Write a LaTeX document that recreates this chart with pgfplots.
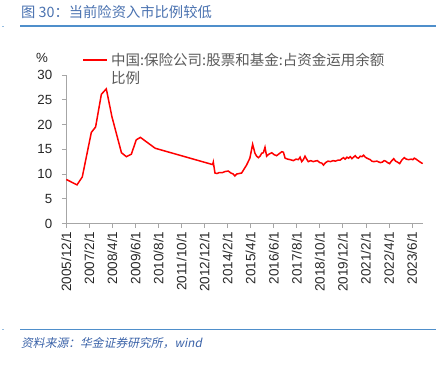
\documentclass[border=0pt]{standalone}
\usepackage{fontspec}
\setmainfont{Liberation Sans}
\newfontfamily\cjk{Noto Sans CJK SC}
\newfontfamily\cjkit{Noto Sans CJK SC}[FakeSlant=0.2]
\usepackage{pgfplots}
\pgfplotsset{compat=1.18}
\definecolor{titleblue}{HTML}{4A72B0}
\definecolor{lineblue}{HTML}{4F8FCB}
\definecolor{srcblue}{HTML}{3A62A8}
\definecolor{axisgray}{HTML}{A6A6A6}
\definecolor{legtext}{HTML}{595959}
\begin{document}
\begin{tikzpicture}[x=1pt,y=1pt]
\path[use as bounding box] (0,0) rectangle (448,365);
% title
\node[anchor=base west, inner sep=0pt, text=titleblue, font=\cjk\fontsize{14.3}{14.3}\selectfont] at (21,347) {图 30：当前险资入市比例较低};
\draw[lineblue, line width=1.1pt] (20,339) -- (436,339);
\draw[lineblue, line width=0.8pt] (20,36) -- (436,36);
\draw[lineblue!60, line width=0.6pt] (2,339) -- (4,339);
\draw[lineblue!60, line width=0.6pt] (2,36) -- (4,36);
\node[anchor=base west, inner sep=0pt, text=srcblue, font=\cjkit\fontsize{11.8}{11.8}\selectfont] at (21,18) {资料来源：华金证券研究所，wind};
\begin{axis}[
  at={(66.3pt,141.5pt)}, anchor=origin,
  scale only axis, width=356.4pt, height=148.5pt,
  xmin=0, xmax=216.5, ymin=0, ymax=30,
  axis x line*=bottom, axis y line*=left,
  axis line style={axisgray, line width=0.8pt},
  tick style={axisgray, line width=0.8pt},
  tick align=outside, major tick length=4.5pt,
  ytick={0,5,...,30},
  xtick={0,14,...,210},
  xticklabels={2005/12/1,2007/2/1,2008/4/1,2009/6/1,2010/8/1,2011/10/1,2012/12/1,2014/2/1,2015/4/1,2016/6/1,2017/8/1,2018/10/1,2019/12/1,2021/2/1,2022/4/1,2023/6/1},
  /pgf/number format/assume math mode=true,
  y tick label style={font=\fontsize{13.3}{13.3}\selectfont, text=black!85, xshift=-6pt},
  x tick label style={font=\fontsize{13.5}{13.5}\selectfont, text=black!85, rotate=90, anchor=east},
  clip=false,
]
\addplot[red, line width=1.5pt] coordinates {
(0,8.9) (6.5,7.8) (9.7,9.4) (15.2,18.4) (17.8,19.5) (21.3,26.1) (24.3,27.2)
(27.7,21.6) (33.5,14.3) (36.5,13.5) (39.5,14.0) (42.5,16.9) (45,17.4) (54,15.2)
(88.9,11.9) (89.3,12.4) (90.3,10.2) (91.5,10.1) (93,10.3) (95,10.3) (96.5,10.5)
(98.4,10.6) (100,10.2) (101.4,10.0) (102.4,9.6) (103.5,10.0) (105,10.1) (106.5,10.2)
(108,11.0) (109.5,11.8) (111.5,13.2) (113.2,16.0) (114.6,14.2) (115.6,13.6) (116.7,13.3)
(117.7,13.6) (118.7,14.2) (119.7,14.3) (120.7,15.4) (121.7,13.6) (123,14.0) (124.8,14.3)
(126.3,13.9) (127.8,13.7) (129.3,14.1) (130.9,14.5) (131.9,14.4) (132.9,13.2) (134.5,13.0)
(136,12.9) (138,12.7) (139.5,13.0) (141,12.9) (142,13.4) (143,12.5) (144,12.9) (145,13.6)
(146,13.0) (147,12.5) (148.5,12.7) (150,12.5) (151,12.6) (152.5,12.7) (154,12.3) (155.2,12.2)
(156.2,11.8) (157.5,12.3) (159,12.6) (160.5,12.5) (162,12.7) (163.5,12.6) (165,12.8) (166.4,12.8)
(167.4,13.1) (168.4,13.3) (169.4,13.0) (170.5,13.4) (171.5,13.2) (172.5,13.5) (173.5,13.1)
(174.5,13.4) (175.5,13.7) (176.5,13.3) (177.5,13.2) (178.6,13.6) (179.6,13.5) (180.6,13.8)
(181.6,13.4) (182.6,13.2) (184.6,12.9) (185.6,12.6) (186.7,12.5) (188.7,12.6) (190.7,12.3)
(192,12.4) (193,12.7) (194,12.6) (195.2,12.3) (196.4,12.1) (197.5,12.6) (198.9,13.1)
(200,12.6) (201.2,12.4) (202.5,12.1) (203.8,12.8) (205.3,13.3) (206.5,13.0) (207.9,12.9)
(209.5,13.0) (210.5,12.9) (211.4,13.2) (212.5,13.0) (213.7,12.7) (215,12.4) (216.5,12.1)
};
\end{axis}
% y unit
\node[font=\fontsize{13.3}{13.3}\selectfont, text=black!85] at (42,307.5) {\%};
% legend
\draw[red, line width=1.5pt] (83,305) -- (107,305);
\node[anchor=west, inner sep=0pt, text=legtext, font=\cjk\fontsize{14.5}{14.5}\selectfont] at (111,305) {中国:保险公司:股票和基金:占资金运用余额};
\node[anchor=west, inner sep=0pt, text=legtext, font=\cjk\fontsize{14.5}{14.5}\selectfont] at (111,287) {比例};
\end{tikzpicture}
\end{document}
